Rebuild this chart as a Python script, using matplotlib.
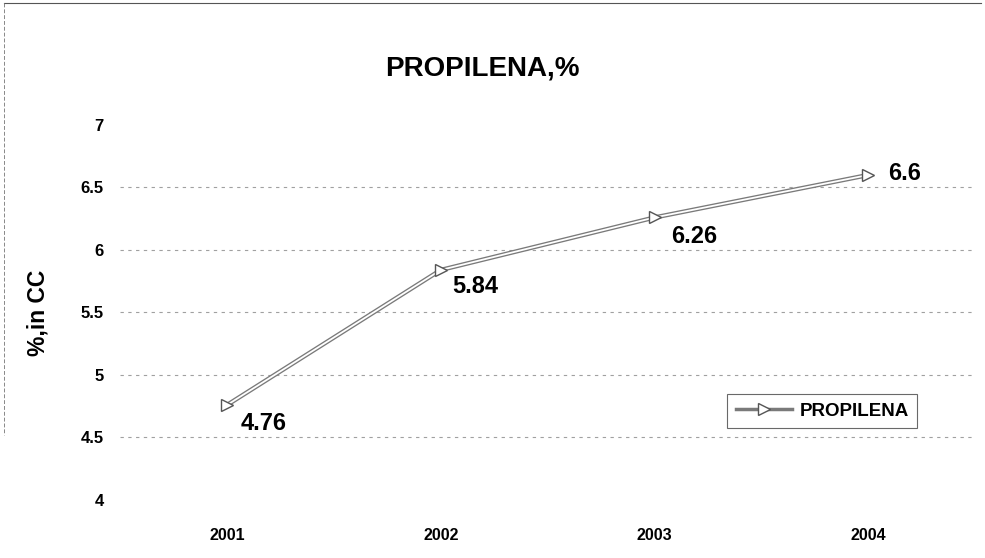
import numpy as np
import matplotlib.pyplot as plt
from matplotlib.lines import Line2D

years = ["2001", "2002", "2003", "2004"]
propilena = [4.76, 5.84, 6.26, 6.6]
yticks = [4, 4.5, 5, 5.5, 6, 6.5, 7]
grid_levels = [4.5, 5, 5.5, 6, 6.5]

plt.rcParams['font.family'] = ['Liberation Sans', 'DejaVu Sans']

fig = plt.figure(figsize=(9.85, 5.58), dpi=100)
ax = fig.add_axes([0.122, 0.104, 0.868, 0.672])

x = np.arange(len(years))
ax.set_xlim(-0.5, 3.5)
ax.set_ylim(4, 7)

for g in grid_levels:
    ax.axhline(g, color="#a0a0a0", linestyle=(0, (3, 4)), linewidth=0.8, zorder=1)

# double (hollow) line look
ax.plot(x, propilena, color="#7a7a7a", linewidth=3.2, zorder=3, solid_capstyle="butt")
ax.plot(x, propilena, color="white", linewidth=1.3, zorder=4, solid_capstyle="butt")
ax.plot(x, propilena, linestyle="none", marker=">", markersize=9,
        markerfacecolor="white", markeredgecolor="#555555", markeredgewidth=1.0, zorder=5)

# label offsets in points from the data point
offsets = [(10, -13), (8, -12), (12, -14), (14, 1)]
for xi, v, (dx, dy) in zip(x, propilena, offsets):
    ax.annotate(f"{v:g}", (xi, v), xytext=(dx, dy), textcoords="offset points",
                fontsize=17, fontweight="bold", ha="left", va="center", zorder=6)

ax.set_xticks(x)
ax.set_xticklabels(years, fontsize=11.5, fontweight="bold")
ax.set_yticks(yticks)
ax.set_yticklabels([f"{t:g}" for t in yticks], fontsize=12, fontweight="bold")
ax.tick_params(length=0)
ax.tick_params(axis="y", pad=12)
ax.tick_params(axis="x", pad=20)
for s in ax.spines.values():
    s.set_visible(False)

ax.set_ylabel("%,in CC", fontsize=16.5, fontweight="bold", labelpad=22)

fig.text(0.49, 0.877, "PROPILENA,%", fontsize=20, fontweight="bold",
         ha="center", va="center")

handle = Line2D([], [], color="#7a7a7a", linewidth=2.5, marker=">", markersize=8,
                markerfacecolor="white", markeredgecolor="#555555")
leg = ax.legend([handle], ["PROPILENA"], loc="upper left", bbox_to_anchor=(0.699, 0.307),
                prop={"weight": "bold", "size": 13.5}, frameon=True, fancybox=False,
                handlelength=3.0, handletextpad=0.4, borderpad=0.45)
leg.get_frame().set_edgecolor("#444444")
leg.get_frame().set_linewidth(0.8)

# scanned border on top and left
fig.add_artist(Line2D([0.004, 0.996], [0.995, 0.995], color="#555555", linewidth=0.8))
fig.add_artist(Line2D([0.004, 0.004], [0.995, 0.22], color="#888888", linewidth=0.7,
                      linestyle=(0, (4, 2))))

fig.savefig("out.png", dpi=100, facecolor="white")
